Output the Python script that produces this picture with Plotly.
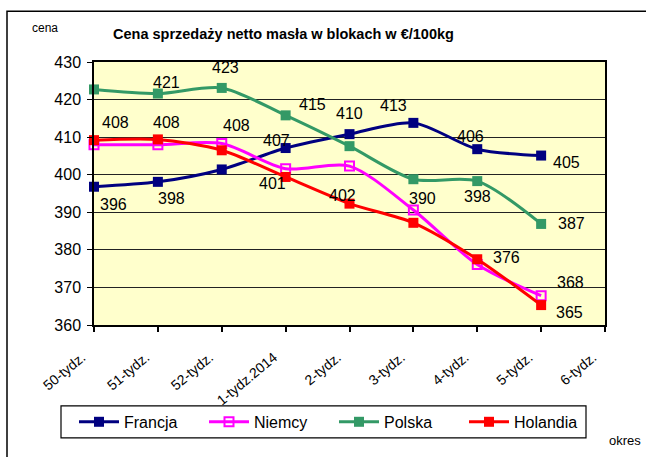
import plotly.graph_objects as go

categories = ["50-tydz.", "51-tydz.", "52-tydz.", "1-tydz.2014", "2-tydz.",
              "3-tydz.", "4-tydz.", "5-tydz.", "6-tydz."]

francja = [396.8, 398.1, 401.4, 407.1, 410.8, 413.8, 406.8, 405.1]
niemcy = [408.0, 408.0, 408.3, 401.6, 402.3, 390.6, 376.1, 367.8]
polska = [422.7, 421.6, 423.1, 415.8, 407.6, 398.8, 398.3, 386.9]
holandia = [409.2, 409.4, 406.5, 399.4, 392.3, 387.2, 377.5, 365.3]

francja_labels = ["396", "398", None, "407", "410", "413", "406", "405"]
niemcy_labels = ["408", "408", "408", "401", "402", "390", "376", "368"]
polska_labels = [None, "421", "423", "415", None, None, "398", "387"]
holandia_labels = [None, None, None, None, None, None, None, "365"]

# label offsets (px) – style, not data
francja_off = [(19, 18), (14, 17), None, (-9, -8), (0, -21), (-20, -17), (-7, -13), (25, 7)]
niemcy_off = [(21, -22), (9, -22), (15, -18), (-13, 15), (-7, 29), (9, -12), (29, -7), (29, -13)]
polska_off = [None, (9, -11), (4, -20), (27, -11), None, None, (0, 15), (30, 0)]
holandia_off = [None, None, None, None, None, None, None, (28, 7)]

FONT = "Liberation Sans, Arial, sans-serif"

series = [
    ("Francja", francja, francja_labels, francja_off, "#000080", "square"),
    ("Niemcy", niemcy, niemcy_labels, niemcy_off, "#FF00FF", "square-open"),
    ("Polska", polska, polska_labels, polska_off, "#339966", "square"),
    ("Holandia", holandia, holandia_labels, holandia_off, "#FF0000", "square"),
]

fig = go.Figure()
annotations = []
for name, vals, labels, offs, color, sym in series:
    xs = list(range(len(vals)))
    fig.add_trace(go.Scatter(
        x=xs, y=vals, name=name, mode="lines+markers",
        line=dict(color=color, width=3, shape="spline", smoothing=0.8),
        marker=dict(symbol=sym, size=10 if sym == "square" else 9, color=color,
                    line=dict(color=color, width=2 if sym == "square-open" else 0)),
        cliponaxis=False,
    ))
    for i, (v, lab, off) in enumerate(zip(vals, labels, offs)):
        if lab is None:
            continue
        annotations.append(dict(
            x=i, y=v, xref="x", yref="y", text=lab, showarrow=False,
            xshift=off[0], yshift=-off[1],
            font=dict(family=FONT, size=16, color="black"),
        ))

PW, PH = 511, 263.3
annotations += [
    dict(text="<b>Cena sprzedaży netto masła w blokach w €/100kg</b>", xref="paper", yref="paper",
         x=(283 - 94) / PW, y=(325 - 34) / PH, yanchor="middle", showarrow=False,
         font=dict(family=FONT, size=14.5, color="black")),
    dict(text="cena", xref="paper", yref="paper", x=(30 - 94) / PW, y=(325 - 28) / PH,
         yanchor="middle", showarrow=False, font=dict(family=FONT, size=12, color="black")),
    dict(text="okres", xref="paper", yref="paper", x=(643 - 94) / PW, xanchor="right",
         y=(325 - 441) / PH, yanchor="middle", showarrow=False,
         font=dict(family=FONT, size=13, color="black")),
]

fig.update_layout(
    width=646, height=457,
    margin=dict(l=94, r=41, t=62, b=132, autoexpand=False),
    paper_bgcolor="white", plot_bgcolor="#FFFFCC",
    showlegend=True,
    legend=dict(orientation="h", x=(74 - 94) / PW, xanchor="left",
                y=(325 - 422) / PH, yanchor="middle",
                borderwidth=0, bgcolor="rgba(0,0,0,0)",
                font=dict(family=FONT, size=16, color="black"),
                entrywidth=75, entrywidthmode="pixels", itemwidth=40),
    annotations=annotations,
    shapes=[
        dict(type="rect", xref="paper", yref="paper",
             x0=(7 - 94) / PW, x1=(660 - 94) / PW,
             y0=(325 - 470) / PH, y1=(325 - 11) / PH,
             line=dict(color="black", width=1.5), fillcolor="rgba(0,0,0,0)", layer="below"),
        dict(type="rect", xref="paper", yref="paper",
             x0=(61 - 94) / PW, x1=(586 - 94) / PW,
             y0=(325 - 438) / PH, y1=(325 - 406) / PH,
             line=dict(color="black", width=1.2), fillcolor="white", layer="below"),
    ],
)

fig.update_xaxes(
    range=[0, 8], tickmode="array", tickvals=list(range(len(categories))), ticktext=categories,
    tickangle=-40, tickfont=dict(family=FONT, size=14, color="black"),
    ticklabelstandoff=12, ticklabelshift=-12,
    showgrid=False, zeroline=False, ticks="outside", ticklen=5, tickcolor="black", tickwidth=1.5,
    showline=True, linecolor="black", linewidth=1.5, mirror=True,
)
fig.update_yaxes(
    range=[360, 430], dtick=10, tickfont=dict(family=FONT, size=16, color="black"),
    ticklabelstandoff=3,
    showgrid=True, gridcolor="#222222", gridwidth=1.3, zeroline=False,
    ticks="outside", ticklen=5, tickcolor="black",
    showline=True, linecolor="black", linewidth=1.5, mirror=True,
)

fig.write_html("out.html", config={"displayModeBar": False},
               post_script="document.body.style.margin='0';document.body.style.overflow='hidden';")
